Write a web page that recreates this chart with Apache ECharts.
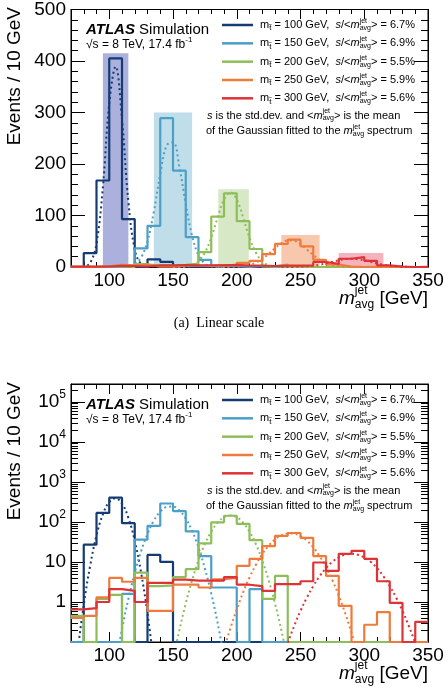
<!DOCTYPE html>
<html><head><meta charset="utf-8">
<script src="https://cdn.jsdelivr.net/npm/echarts@6/dist/echarts.min.js"></script>
<style>html,body{margin:0;padding:0;background:#fff}#c{width:448px;height:688px}</style>
</head><body><div id="c"></div>
<script>
// ---------------- data ----------------
const binEdges = [70,80,90,100,110,120,130,140,150,160,170,180,190,200,210,220,230,240,250,260,270,280,290,300,310,320,330,340,350];
const stopMasses = [100,150,200,250,300];
const resolutions = ['6.7','6.9','5.5','5.9','5.6'];
const hist100 = [0,27,168,405,93,0,15,10,0,0,0,0,0,0,0,0,0,0,0,0,0,0,0,0,0,0,0,0];
const hist150 = [0,0,0,0,1.6,36,80,289,187,58,14,2.3,2.3,0,2.1,0,0,0,0,0,0,0,0,0,0,0,0,0];
const hist200 = [0.45,0,1.2,1.5,0,5.4,2.5,2.6,4.2,6.6,29,98,143,89,35,1.2,4.5,0,0,0,0,0,0,0,0,0,0,0];
const hist250 = [0.4,0.45,1.3,4.0,3.2,4.0,0.6,0.6,2.7,2.7,2.3,3.7,4.0,8,12,25,45,53,40,14,4.5,0.8,0,0.27,0.56,0,0,0];
const hist300 = [0.65,0.7,1.0,2.1,1.9,1.0,3.0,3.0,3.6,3.4,3.4,3.4,4.2,2.7,2.5,1.9,2.8,2.8,3.3,9.7,6.0,16,19,12,3.3,0.95,0,0.32];
const fitX100 = [75,80,85,90,95,100,105,110,115,120,125,130,135];
const fit100 = [0.054,0.85,8.0,46,155,317,389,286,127,34,5.4,0.51,0.029];
const fitX150 = [105,110,115,120,125,130,135,140,145,150,155,160,165,170,175,180,185,190];
const fit150 = [0.029,0.21,1.19,5.3,18.5,50,108,180,236,242,194,122,60,23,6.9,1.63,0.30,0.043];
const fitX200 = [150,155,160,165,170,175,180,185,190,195,200,205,210,215,220,225,230,235,240];
const fit200 = [0.034,0.195,0.92,3.5,11,28,57,96,131,145,131,96,57,28,11,3.5,0.92,0.195,0.034];
const fitX250 = [185,190,195,200,205,210,215,220,225,230,235,240,245,250,255,260,265,270,275,280,285,290,295];
const fit250 = [0.016,0.064,0.22,0.65,1.74,4.1,8.5,15.7,25.4,36.4,46,51.5,50.9,44.4,34.2,23.3,14,7.4,3.5,1.45,0.53,0.17,0.049];
const fitX300 = [235,240,245,250,255,260,265,270,275,280,285,290,295,300,305,310,315,320,325,330,335,340,345];
const fit300 = [0.032,0.094,0.25,0.6,1.29,2.5,4.4,7.0,10.1,13,15.2,16,15.2,13,10.1,7.0,4.4,2.5,1.29,0.6,0.25,0.094,0.032];
const windowLow = [95,135,185.5,235,280];
const windowHigh = [115,165,209.5,265,315];
const windowTop = [415,300,151,62,27];
const xTicks = [100,150,200,250,300,350];
const yTicksLinear = [0,100,200,300,400,500];
const yTicksLog = [1,10,100,1000,10000,100000];

// ---------------- style ----------------
const colors = ['#143B72','#4C9FC7','#8DBE5A','#EE7B3C','#DD3236'];
const shades = ['#ABB1DC','#C0DEEA','#D7E8C6','#F7C8AE','#F4B3BD'];
const FONT = '"Liberation Sans", Arial, Helvetica, sans-serif';
const hists = [hist100,hist150,hist200,hist250,hist300];
const fitXs = [fitX100,fitX150,fitX200,fitX250,fitX300];
const fits = [fit100,fit150,fit200,fit250,fit300];
const LOG_MIN = 0.1, LOG_MAX = 2.8e5;

function stepData(values, floor) {
  const d = values.map((v,i) => [binEdges[i], floor != null ? Math.max(v, floor) : v]);
  d.push([binEdges[values.length], d[d.length-1][1]]);
  return d;
}

const rects = [{left:71, top:9, width:357, height:258}, {left:71, top:384, width:357, height:258}];
const xMin = binEdges[0], xMax = binEdges[binEdges.length-1];
const grid = [], xAxis = [], yAxis = [], series = [];
function tickStyle() { return {color:'#000', width:1}; }

rects.forEach((r, g) => {
  const log = g === 1;
  // plot grid, with its own black border as the frame
  const gP = grid.length;
  grid.push(Object.assign({show:true, borderColor:'#000', borderWidth:1, backgroundColor:'rgba(0,0,0,0)'}, r));
  const xP = xAxis.length;
  xAxis.push({gridIndex:gP, type:'value', position:'bottom', min:xMin, max:xMax, interval:10, splitLine:{show:false},
    axisLine:{show:true, lineStyle:tickStyle()}, axisTick:{show:true, inside:true, length:5, lineStyle:tickStyle()},
    axisLabel:{show:true, customValues:xTicks, fontSize:19, color:'#000', fontFamily:FONT, margin:4}});
  const yb = log ? {type:'log', logBase:10, min:LOG_MIN, max:LOG_MAX}
                 : {type:'value', min:0, max:500, interval:100};
  const lab = log ? {show:true, customValues:yTicksLog, color:'#000', fontFamily:FONT, fontSize:19, margin:5,
        formatter: v => { const e = Math.round(Math.log10(v)); return e <= 1 ? String(Math.round(v)) : '{b|10}{s|' + e + '}'; },
        rich:{ b:{fontSize:19, fontFamily:FONT, color:'#000'}, s:{fontSize:12, fontFamily:FONT, color:'#000', padding:[0,0,14,0]} }}
    : {show:true, customValues:yTicksLinear, color:'#000', fontFamily:FONT, fontSize:19, margin:5};
  const yL = yAxis.length;
  yAxis.push(Object.assign({gridIndex:gP, position:'left', splitLine:{show:false},
    axisLine:{show:true, lineStyle:tickStyle()}, axisTick:{show:true, inside:true, length:14, lineStyle:tickStyle()},
    minorTick:{show:true, splitNumber:log ? 9 : 5, length:7, lineStyle:tickStyle()}, axisLabel:lab}, yb));
  const yR = yAxis.length;
  yAxis.push(Object.assign({gridIndex:gP, position:'right', splitLine:{show:false},
    axisLine:{show:true, lineStyle:tickStyle()}, axisTick:{show:true, inside:true, length:14, lineStyle:tickStyle()},
    minorTick:{show:true, splitNumber:log ? 9 : 5, length:7, lineStyle:tickStyle()}, axisLabel:{show:false}}, yb));

  stopMasses.forEach((m, i) => {
    const s = {
      type:'line', name:'m' + m, xAxisIndex:xP, yAxisIndex:yL, step:'end', symbol:'none', silent:true, z:3,
      data: stepData(hists[i], log ? LOG_MIN : null),
      lineStyle:{color:colors[i], width:2.2}, itemStyle:{color:colors[i]}, clip:true
    };
    if (!log) {
      s.markArea = {silent:true, z:1, itemStyle:{color:shades[i], opacity:1},
        data:[[{xAxis:windowLow[i], yAxis:0}, {xAxis:windowHigh[i], yAxis:windowTop[i]}]]};
    }
    series.push(s);
    series.push({
      type:'line', xAxisIndex:xP, yAxisIndex:yR, smooth:0.4, symbol:'none', silent:true, z:3, clip:true,
      data: fitXs[i].map((x,k) => [x, fits[i][k]]),
      lineStyle:{color:colors[i], width:2, type:[2,3]}
    });
  });

  // overlay: top axis with short ticks every 10
  const gA = grid.length; grid.push(Object.assign({}, r));
  const xA = xAxis.length;
  xAxis.push({gridIndex:gA, type:'value', position:'top', min:xMin, max:xMax, interval:10, splitLine:{show:false},
    axisLine:{show:true, lineStyle:tickStyle()}, axisTick:{show:true, inside:true, length:5, lineStyle:tickStyle()}, axisLabel:{show:false}});
  const yA = yAxis.length;
  yAxis.push({gridIndex:gA, type:'value', min:1, max:2, show:false});
  series.push({type:'line', xAxisIndex:xA, yAxisIndex:yA, data:[], symbol:'none', silent:true});

  // overlay: long ticks at labelled values, top and bottom
  const gB = grid.length; grid.push(Object.assign({}, r));
  const yB = yAxis.length;
  yAxis.push({gridIndex:gB, type:'value', min:1, max:2, show:false});
  ['bottom','top'].forEach(pos => {
    const xi = xAxis.length;
    xAxis.push({gridIndex:gB, type:'value', position:pos, min:xMin, max:xMax, splitLine:{show:false},
      axisLine:{show:false}, axisLabel:{show:false},
      axisTick:{show:true, inside:true, length:10, customValues:xTicks, lineStyle:tickStyle()}});
    series.push({type:'line', xAxisIndex:xi, yAxisIndex:yB, data:[], symbol:'none', silent:true});
  });
});

// ---------------- text layout helper ----------------
const mctx = document.createElement('canvas').getContext('2d');
function fontStr(s) { return (s.style||'normal') + ' ' + (s.weight||'normal') + ' ' + s.size + 'px ' + FONT; }
function richLine(spans, x, y, align) {
  const items = []; let cursor = 0, lastStart = 0;
  spans.forEach(s => {
    const f = fontStr(s); mctx.font = f; const w = mctx.measureText(s.t).width;
    let x0;
    if (s.stack) { x0 = lastStart; cursor = Math.max(cursor, lastStart + w); }
    else { x0 = cursor; lastStart = cursor; cursor += w; }
    items.push({s, f, x0});
  });
  const off = align === 'right' ? x - cursor : (align === 'center' ? x - cursor/2 : x);
  return items.map(it => ({type:'text', silent:true, x: off + it.x0, y: y + (it.s.dy||0),
    style:{text: it.s.t, font: it.f, fill: '#000', textAlign:'left', textVerticalAlign:'middle', verticalAlign:'middle'}}));
}
const graphics = [];
rects.forEach((gr, g) => {
  const t = gr.top;
  graphics.push({type:'text', silent:true, x:15, y:t-2, rotation:Math.PI/2,
    style:{text:'Events / 10 GeV', font:'19px ' + FONT, fill:'#000', textAlign:'right', textVerticalAlign:'middle', verticalAlign:'middle'}});
  graphics.push(...richLine([
    {t:'m', size:19, style:'italic'}, {t:'jet', size:12, dy:-8}, {t:'avg', size:12, dy:6, stack:true}, {t:' [GeV]', size:19}
  ], 428, t + gr.height + 32, 'right'));
  graphics.push(...richLine([{t:'ATLAS', size:15, style:'italic', weight:'bold'}, {t:' Simulation', size:15}], 86, t + 20.5, 'left'));
  graphics.push(...richLine([{t:'\u221As = 8 TeV, 17.4 fb', size:12}, {t:'-1', size:8, dy:-5}], 86, t + 35.5, 'left'));
  stopMasses.forEach((m, i) => {
    const y = t + 16 + i * 18.33;
    graphics.push({type:'line', silent:true, shape:{x1:222, y1:y, x2:253, y2:y}, style:{stroke:colors[i], lineWidth:2.5}});
    graphics.push(...richLine([
      {t:'m', size:11}, {t:'t\u0303', size:8, dy:3}, {t:' = ' + m + ' GeV,  ', size:11},
      {t:'s', size:11, style:'italic'}, {t:'/<', size:11}, {t:'m', size:11, style:'italic'},
      {t:'jet', size:7, dy:-4}, {t:'avg', size:7, dy:3, stack:true}, {t:'> = ' + resolutions[i] + '%', size:11}
    ], 260, y, 'left'));
  });
  graphics.push(...richLine([
    {t:'s', size:11, style:'italic'}, {t:' is the std.dev. and <', size:11}, {t:'m', size:11, style:'italic'},
    {t:'jet', size:7, dy:-4}, {t:'avg', size:7, dy:3, stack:true}, {t:'> is the mean', size:11}
  ], 207, t + 106.5, 'left'));
  graphics.push(...richLine([
    {t:'of the Gaussian fitted to the ', size:11}, {t:'m', size:11, style:'italic'},
    {t:'jet', size:7, dy:-4}, {t:'avg', size:7, dy:3, stack:true}, {t:' spectrum', size:11}
  ], 206, t + 122, 'left'));
});
graphics.push({type:'text', silent:true, x:219, y:323,
  style:{text:'(a)  Linear scale', font:'14px "Liberation Serif", "Times New Roman", serif', fill:'#000', textAlign:'center', textVerticalAlign:'middle', verticalAlign:'middle'}});

const chart = echarts.init(document.getElementById('c'), null, {renderer:'canvas'});
chart.setOption({animation:false, backgroundColor:'#fff', grid: grid, xAxis: xAxis, yAxis: yAxis, series: series, graphic: graphics});
</script>
</body></html>
